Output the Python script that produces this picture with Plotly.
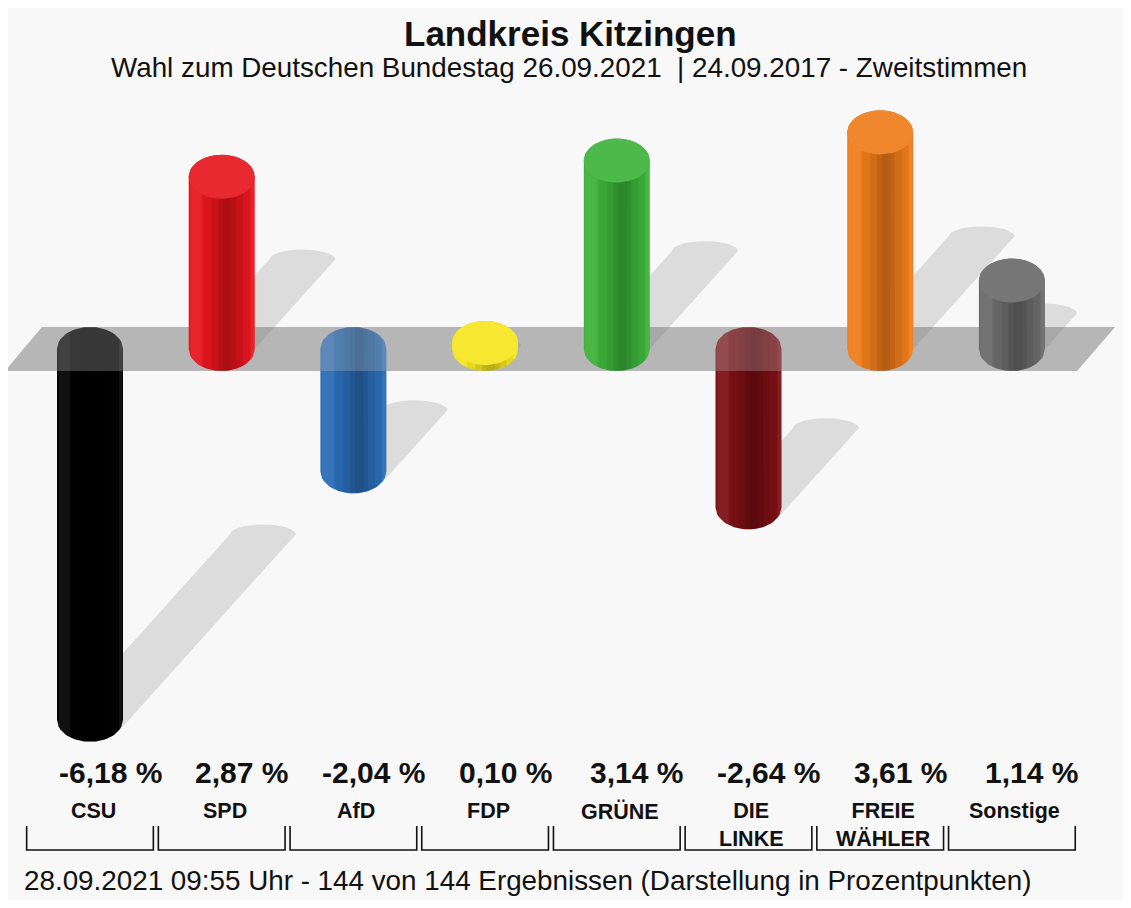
import numpy as np
import plotly.graph_objects as go

# Landkreis Kitzingen - Zweitstimmen, Gewinne/Verluste 2021 vs 2017 (Prozentpunkte)
parties = ["CSU", "SPD", "AfD", "FDP", "GRÜNE", "DIE<br>LINKE", "FREIE<br>WÄHLER", "Sonstige"]
changes = [-6.18, 2.87, -2.04, 0.10, 3.14, -2.64, 3.61, 1.14]
colors = ["#030303", "#e6161e", "#2b6db6", "#f5e61e", "#3db33a", "#7c1015", "#f07d1b", "#6b6b6b"]

title = "Landkreis Kitzingen"
subtitle = "Wahl zum Deutschen Bundestag 26.09.2021  | 24.09.2017 - Zweitstimmen"
footer = "28.09.2021 09:55 Uhr - 144 von 144 Ergebnissen (Darstellung in Prozentpunkten)"

# the page body has an 8px margin, so the figure is a bit smaller than the window
OFF = 8
W, H = 1131 - 2 * OFF, 908 - 2 * OFF
STEP_PX = 131.7          # pixels between categories
PP_PX = 60.0             # pixels per percentage point
X0_PX = 90.0 - OFF       # first category centre
Y0_PX = 349.0 - OFF      # zero line
px_x = 1.0 / STEP_PX
px_y = 1.0 / PP_PX

RX = 33 * px_x      # cylinder radius (x units)
RY = 22 * px_y      # cap ellipse half height (y units)
SHEAR = 0.9         # shadow dx/dy in pixels

x_range = [-X0_PX * px_x, (W - X0_PX) * px_x]
y_range = [-(H - Y0_PX) * px_y, Y0_PX * px_y]

fig = go.Figure()


def poly(xs, ys, fill):
    fig.add_trace(go.Scatter(
        x=list(xs) + [xs[0]], y=list(ys) + [ys[0]],
        mode="lines", fill="toself", fillcolor=fill,
        line=dict(width=0, color=fill),
        hoverinfo="skip", showlegend=False))


def blend(hexcol, other, t):
    a = np.array([int(hexcol[i:i + 2], 16) for i in (1, 3, 5)], float)
    b = np.array([int(other[i:i + 2], 16) for i in (1, 3, 5)], float)
    c = (a * (1 - t) + b * t).round().astype(int)
    return "#%02x%02x%02x" % tuple(c)


def cylinder_outline(c, top, bottom, x1, x2, n=40):
    # body between cap centres 'bottom' and 'top', rounded by half ellipses
    t = np.linspace(x1, x2, n)
    e = RY * np.sqrt(np.clip(1 - ((t - c) / RX) ** 2, 0, 1))
    xs = list(t) + list(t[::-1])
    ys = list(bottom - e) + list((top + e)[::-1])
    return xs, ys


def shadow(c, y_start, y_end):
    dy_px = (y_end - y_start) * PP_PX
    shift = SHEAR * dy_px * px_x
    th = np.linspace(0, np.pi, 20)
    xs = [c - RX, c + RX]
    ys = [y_start, y_start]
    xs += list(c + shift + RX * np.cos(th))
    ys += list(y_end + 0.45 * RY * np.sin(th))
    return xs, ys


xc = np.arange(len(parties), dtype=float)

# zero plane (grey band)
band_x = [-85 * px_x, -48 * px_x, 1025 * px_x, 987 * px_x]
band_y = [-RY, RY, RY, -RY]
poly(band_x, band_y, "#b6b6b6")

# shadows
for c, v in zip(xc, changes):
    if v >= 0:
        sx, sy = shadow(c, 0.0, 0.52 * v)
    else:
        sx, sy = shadow(c, v - 0.3 * RY, 0.5 * v)
    poly(sx, sy, "rgba(0,0,0,0.11)")


def draw_bar(c, v, col):
    top, bottom = (v, 0.0) if v >= 0 else (0.0, v)
    xs, ys = cylinder_outline(c, top, bottom, c - RX, c + RX)
    poly(xs, ys, col)
    # shading stripes
    for a, b, alpha in [(-0.55, 0.85, 0.06), (-0.3, 0.65, 0.07), (-0.1, 0.45, 0.08), (0.05, 0.3, 0.06)]:
        sx, sy = cylinder_outline(c, top, bottom, c + a * RX, c + b * RX, 30)
        poly(sx, sy, "rgba(0,0,0,%.2f)" % alpha)
    for a, b, alpha in [(-0.95, -0.6, 0.06), (0.88, 0.98, 0.06)]:
        sx, sy = cylinder_outline(c, top, bottom, c + a * RX, c + b * RX, 30)
        poly(sx, sy, "rgba(255,255,255,%.2f)" % alpha)
    if v >= 0:
        th = np.linspace(0, 2 * np.pi, 60)
        poly(list(c + RX * np.cos(th)), list(top + RY * np.sin(th)), blend(col, "#ffffff", 0.08))


# negative bars sit below the translucent zero plane
for c, v, col in zip(xc, changes, colors):
    if v < 0:
        draw_bar(c, v, col)
poly(band_x, band_y, "rgba(182,182,182,0.30)")
for c, v, col in zip(xc, changes, colors):
    if v >= 0:
        draw_bar(c, v, col)

# brackets under the categories
gap = 2.5 * px_x
y_low = (349 - 850) * px_y
y_high = (349 - 826) * px_y
for c in xc:
    fig.add_trace(go.Scatter(
        x=[c - 0.5 + gap, c - 0.5 + gap, c + 0.5 - gap, c + 0.5 - gap],
        y=[y_high, y_low, y_low, y_high], mode="lines",
        line=dict(color="#111111", width=1.6), hoverinfo="skip", showlegend=False))

FONT = "Liberation Sans"
annotations = []
for c, v, name in zip(xc, changes, parties):
    label = ("%.2f" % v).replace(".", ",") + " %"
    annotations.append(dict(x=c, y=(349 - 772) * px_y, xref="x", yref="y", text=label,
                            showarrow=False, xshift=20, yanchor="middle",
                            font=dict(size=30, color="#111111", family=FONT, weight="bold")))
    annotations.append(dict(x=c, y=(349 - 797) * px_y, xref="x", yref="y", text=name,
                            showarrow=False, xshift=3, yanchor="top",
                            font=dict(size=21.5, color="#111111", family=FONT, weight="bold")))


def paper(xp, yp):
    return (xp - OFF) / W, 1 - (yp - OFF) / H


tx, ty = paper(571, 33)
annotations.append(dict(x=tx, y=ty, xref="paper", yref="paper", text="<b>" + title + "</b>",
                        showarrow=False, yanchor="middle",
                        font=dict(size=35, color="#111111", family=FONT)))
sx_, sy_ = paper(569, 68)
annotations.append(dict(x=sx_, y=sy_, xref="paper", yref="paper", text=subtitle,
                        showarrow=False, yanchor="middle",
                        font=dict(size=27.8, color="#111111", family=FONT)))
fx, fy = paper(22, 880)
annotations.append(dict(x=fx, y=fy, xref="paper", yref="paper", text=footer,
                        showarrow=False, xanchor="left", yanchor="middle",
                        font=dict(size=27.8, color="#111111", family=FONT)))

fig.update_layout(
    width=W, height=H,
    margin=dict(l=0, r=0, t=0, b=0),
    paper_bgcolor="#f8f8f8", plot_bgcolor="#f8f8f8",
    xaxis=dict(range=x_range, visible=False, fixedrange=True),
    yaxis=dict(range=y_range, visible=False, fixedrange=True),
    annotations=annotations,
    showlegend=False,
)

fig.write_html("out.html")
